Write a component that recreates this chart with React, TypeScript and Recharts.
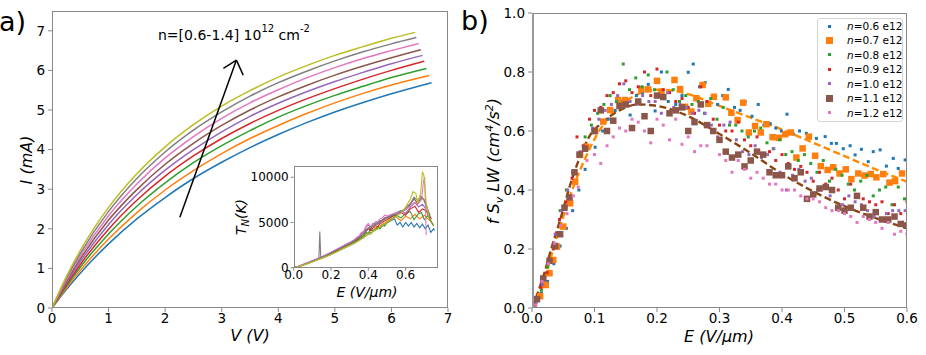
import React from 'react';
import { LineChart, Line, XAxis, YAxis, ComposedChart, Scatter, ReferenceLine } from 'recharts';

const FONT = 'DejaVu Sans';
const C = ['#1f77b4', '#ff7f0e', '#2ca02c', '#d62728', '#9467bd', '#8c564b', '#e377c2', '#7f7f7f', '#bcbd22'];

// ---------- Panel a: I-V curves ----------
const V_GRID = [0, 0.25, 0.5, 1, 1.5, 2, 2.5, 3, 3.5, 4, 4.5, 5, 5.5, 6];
const END_V = [6.71, 6.67, 6.62, 6.58, 6.55, 6.52, 6.48, 6.44, 6.42];
const I_N06 = [0, 0.46, 0.88, 1.62, 2.25, 2.79, 3.27, 3.68, 4.05, 4.38, 4.68, 4.95, 5.19, 5.41, 5.69];
const I_N07 = [0, 0.5, 0.95, 1.74, 2.41, 2.98, 3.47, 3.9, 4.28, 4.61, 4.91, 5.18, 5.42, 5.63, 5.87];
const I_N08 = [0, 0.54, 1.03, 1.87, 2.57, 3.16, 3.67, 4.1, 4.48, 4.82, 5.11, 5.37, 5.6, 5.82, 6.05];
const I_N09 = [0, 0.58, 1.1, 1.99, 2.72, 3.33, 3.84, 4.28, 4.66, 4.99, 5.28, 5.54, 5.78, 6.0, 6.23];
const I_N10 = [0, 0.62, 1.17, 2.11, 2.86, 3.48, 4.0, 4.45, 4.84, 5.17, 5.46, 5.72, 5.95, 6.17, 6.38];
const I_N11 = [0, 0.66, 1.24, 2.22, 2.99, 3.63, 4.16, 4.61, 5.0, 5.33, 5.62, 5.88, 6.11, 6.32, 6.52];
const I_N12 = [0, 0.7, 1.31, 2.33, 3.13, 3.79, 4.33, 4.79, 5.18, 5.51, 5.81, 6.07, 6.3, 6.5, 6.68];
const I_N13 = [0, 0.74, 1.38, 2.44, 3.27, 3.94, 4.49, 4.95, 5.35, 5.69, 5.98, 6.24, 6.47, 6.67, 6.83];
const I_N14 = [0, 0.78, 1.45, 2.54, 3.39, 4.07, 4.63, 5.1, 5.49, 5.83, 6.12, 6.38, 6.6, 6.81, 6.96];
const IV_ALL = [I_N06, I_N07, I_N08, I_N09, I_N10, I_N11, I_N12, I_N13, I_N14];
const V_TICKS = [0, 1, 2, 3, 4, 5, 6, 7];
const I_TICKS = [0, 1, 2, 3, 4, 5, 6, 7];
const ARROW = [{ x: 2.26, y: 2.29 }, { x: 3.26, y: 6.26 }];
const ARROW_L = [{ x: 3.26, y: 6.26 }, { x: 3.03, y: 6.05 }];
const ARROW_R = [{ x: 3.26, y: 6.26 }, { x: 3.38, y: 5.88 }];

// ---------- Inset: noise temperature ----------
const T_N06 = [[0,0],[0.025,100],[0.05,280],[0.075,470],[0.1,650],[0.125,850],[0.15,1050],[0.175,1250],[0.2,1450],[0.225,1700],[0.25,1950],[0.275,2200],[0.3,2450],[0.325,2700],[0.35,3000],[0.375,3350],[0.4,3700],[0.425,4000],[0.45,4300],[0.475,4600],[0.5,4950],[0.525,5250],[0.54,5400],[0.555,4700],[0.57,5000],[0.585,4500],[0.6,5000],[0.615,4600],[0.63,5000],[0.645,4500],[0.66,4900],[0.675,4400],[0.69,4800],[0.705,4300],[0.72,4700],[0.735,3900],[0.75,4300],[0.755,4100]];
const T_N07 = [[0,0],[0.025,120],[0.05,300],[0.075,500],[0.1,700],[0.125,900],[0.15,1100],[0.175,1300],[0.2,1550],[0.225,1800],[0.25,2050],[0.275,2300],[0.3,2550],[0.325,2800],[0.35,3100],[0.3625,3400],[0.375,3300],[0.3875,3800],[0.4,3700],[0.4125,4200],[0.425,4000],[0.4375,4500],[0.45,4400],[0.475,4800],[0.5,5100],[0.525,5400],[0.55,5600],[0.575,5200],[0.6,5700],[0.625,5400],[0.65,5900],[0.675,5400],[0.7,5800],[0.725,5300],[0.74,5000],[0.75,4600]];
const T_N08 = [[0,0],[0.025,110],[0.05,290],[0.075,490],[0.1,690],[0.125,880],[0.15,1080],[0.175,1300],[0.2,1560],[0.225,1820],[0.25,2080],[0.275,2330],[0.3,2600],[0.325,2850],[0.35,3150],[0.375,3500],[0.3875,3900],[0.4,3800],[0.4125,4300],[0.425,4100],[0.45,4450],[0.4625,4300],[0.475,4700],[0.4875,4600],[0.5,5000],[0.525,5350],[0.55,5800],[0.575,5500],[0.6,6000],[0.625,6200],[0.645,5300],[0.665,5900],[0.685,6100],[0.7,5300],[0.72,5800],[0.74,5000],[0.748,4700]];
const T_N09 = [[0,0],[0.025,130],[0.05,320],[0.075,520],[0.1,720],[0.125,930],[0.15,1150],[0.175,1380],[0.2,1620],[0.225,1880],[0.25,2150],[0.275,2400],[0.3,2650],[0.3125,2800],[0.325,2950],[0.3375,3050],[0.35,3300],[0.3625,3600],[0.375,3750],[0.3875,4100],[0.4,4300],[0.4125,4100],[0.425,4400],[0.4375,4700],[0.45,4500],[0.4625,4900],[0.475,5000],[0.4875,5200],[0.5,5300],[0.525,5600],[0.55,5900],[0.575,6100],[0.6,5800],[0.625,6500],[0.65,6800],[0.67,6100],[0.69,6500],[0.71,6300],[0.725,5700],[0.74,5400]];
const T_N10 = [[0,0],[0.025,140],[0.05,340],[0.075,540],[0.1,750],[0.125,960],[0.15,1180],[0.175,1420],[0.2,1680],[0.225,1950],[0.25,2220],[0.275,2500],[0.3,2750],[0.3125,2900],[0.325,3050],[0.3375,3300],[0.35,3450],[0.3625,3800],[0.375,3950],[0.3875,4500],[0.4,4700],[0.4125,4500],[0.425,4900],[0.4375,4700],[0.45,5100],[0.4625,4900],[0.475,5300],[0.4875,5500],[0.5,5600],[0.525,5800],[0.55,6100],[0.575,6300],[0.6,6000],[0.625,6700],[0.65,7200],[0.67,6700],[0.69,7000],[0.705,6600],[0.72,6000],[0.735,5600]];
const T_N11 = [[0,0],[0.025,130],[0.05,330],[0.075,530],[0.1,740],[0.125,950],[0.15,1170],[0.175,1400],[0.2,1650],[0.225,1920],[0.25,2200],[0.275,2450],[0.3,2700],[0.325,3000],[0.35,3350],[0.3625,3500],[0.375,3800],[0.3875,4200],[0.4,4400],[0.4125,4300],[0.425,4700],[0.4375,4900],[0.45,4800],[0.4625,5200],[0.475,5200],[0.4875,5500],[0.5,5500],[0.525,5700],[0.55,5900],[0.575,6200],[0.6,6400],[0.625,7000],[0.645,7600],[0.665,7100],[0.685,7800],[0.7,7400],[0.715,6600],[0.73,5800]];
const T_N12 = [[0,0],[0.025,150],[0.05,350],[0.075,560],[0.1,770],[0.125,980],[0.15,1200],[0.175,1450],[0.2,1700],[0.225,1980],[0.25,2250],[0.275,2550],[0.3,2800],[0.3125,2950],[0.325,3100],[0.3375,3350],[0.35,3500],[0.3625,3900],[0.375,4000],[0.3875,4600],[0.4,4900],[0.4125,4500],[0.425,4700],[0.4375,5100],[0.45,5100],[0.4625,5400],[0.475,5500],[0.4875,5800],[0.5,5700],[0.525,5900],[0.55,6100],[0.575,6000],[0.6,6500],[0.625,6800],[0.645,7200],[0.665,7000],[0.685,7500],[0.695,9500],[0.702,10000],[0.71,3600]];
const T_N13 = [[0,0],[0.025,120],[0.05,310],[0.075,510],[0.1,720],[0.125,930],[0.135,1020],[0.14,4000],[0.145,1100],[0.15,1150],[0.175,1380],[0.2,1630],[0.225,1890],[0.25,2150],[0.275,2400],[0.3,2680],[0.325,2980],[0.35,3350],[0.3625,3500],[0.375,3800],[0.3875,4000],[0.4,4300],[0.4125,4600],[0.425,4500],[0.4375,4900],[0.45,4900],[0.4625,5100],[0.475,5200],[0.5,5500],[0.525,5800],[0.55,5900],[0.575,6200],[0.6,6600],[0.625,7100],[0.645,7800],[0.665,7400],[0.68,7900],[0.7,7500],[0.715,6600],[0.73,5600]];
const T_N14 = [[0,0],[0.025,90],[0.05,260],[0.075,450],[0.1,640],[0.125,840],[0.15,1030],[0.175,1230],[0.2,1450],[0.225,1690],[0.25,1950],[0.275,2200],[0.3,2450],[0.325,2700],[0.35,3000],[0.375,3350],[0.3875,3500],[0.4,3800],[0.4125,3700],[0.425,4000],[0.4375,4200],[0.45,4300],[0.4625,4500],[0.475,4650],[0.5,5000],[0.525,5300],[0.55,5700],[0.575,6000],[0.6,6700],[0.625,7600],[0.64,8400],[0.655,8200],[0.665,7100],[0.68,8200],[0.69,10600],[0.698,10200],[0.71,7200],[0.725,5500]];
const T_ALL = [T_N06, T_N07, T_N08, T_N09, T_N10, T_N11, T_N12, T_N13, T_N14];
const INSET_X_TICKS = [0, 0.2, 0.4, 0.6];
const INSET_Y_TICKS = [0, 5000, 10000];

// ---------- Panel b: f S_v LW ----------
const S_N06 = [[0.005,0.01],[0.015,0.05],[0.025,0.09],[0.035,0.15],[0.045,0.21],[0.055,0.27],[0.065,0.33],[0.075,0.4],[0.085,0.47],[0.101,0.545],[0.113,0.6],[0.122,0.64],[0.133,0.67],[0.143,0.7],[0.157,0.654],[0.167,0.72],[0.177,0.73],[0.186,0.758],[0.197,0.668],[0.207,0.8],[0.218,0.7],[0.23,0.69],[0.24,0.72],[0.25,0.799],[0.258,0.827],[0.268,0.75],[0.277,0.764],[0.287,0.71],[0.297,0.69],[0.305,0.72],[0.314,0.741],[0.324,0.68],[0.333,0.67],[0.341,0.699],[0.352,0.65],[0.362,0.69],[0.371,0.62],[0.381,0.625],[0.39,0.61],[0.399,0.6],[0.408,0.657],[0.418,0.59],[0.428,0.6],[0.439,0.592],[0.455,0.575],[0.469,0.581],[0.479,0.558],[0.487,0.558],[0.498,0.54],[0.509,0.55],[0.517,0.519],[0.527,0.538],[0.538,0.496],[0.546,0.53],[0.557,0.536],[0.567,0.481],[0.578,0.507],[0.586,0.473],[0.597,0.502]];
const S_N07 = [[0.003,0.002],[0.013,0.04],[0.022,0.078],[0.028,0.118],[0.034,0.163],[0.04,0.208],[0.05,0.276],[0.061,0.355],[0.069,0.428],[0.077,0.519],[0.087,0.547],[0.101,0.6],[0.114,0.632],[0.125,0.671],[0.138,0.705],[0.149,0.705],[0.175,0.741],[0.186,0.741],[0.2,0.77],[0.207,0.733],[0.228,0.773],[0.237,0.742],[0.245,0.682],[0.255,0.666],[0.263,0.711],[0.273,0.756],[0.282,0.692],[0.291,0.716],[0.31,0.714],[0.319,0.662],[0.329,0.637],[0.338,0.696],[0.347,0.595],[0.357,0.617],[0.366,0.595],[0.375,0.623],[0.385,0.579],[0.395,0.577],[0.405,0.589],[0.414,0.595],[0.423,0.51],[0.433,0.541],[0.443,0.581],[0.453,0.516],[0.462,0.481],[0.473,0.468],[0.482,0.477],[0.492,0.456],[0.502,0.47],[0.511,0.437],[0.522,0.456],[0.532,0.449],[0.542,0.454],[0.551,0.443],[0.562,0.454],[0.572,0.425],[0.581,0.43],[0.592,0.456]];
const S_N08 = [[0.005,0.01],[0.015,0.06],[0.025,0.14],[0.035,0.21],[0.045,0.33],[0.055,0.4],[0.065,0.46],[0.075,0.52],[0.085,0.58],[0.095,0.62],[0.105,0.66],[0.115,0.69],[0.125,0.72],[0.135,0.7],[0.146,0.827],[0.156,0.74],[0.166,0.78],[0.176,0.75],[0.186,0.79],[0.196,0.74],[0.206,0.72],[0.216,0.8],[0.226,0.74],[0.236,0.7],[0.246,0.72],[0.256,0.69],[0.266,0.7],[0.276,0.66],[0.286,0.71],[0.296,0.64],[0.306,0.68],[0.316,0.62],[0.326,0.62],[0.336,0.6],[0.346,0.58],[0.356,0.6],[0.366,0.61],[0.376,0.56],[0.386,0.54],[0.396,0.57],[0.406,0.52],[0.416,0.53],[0.426,0.5],[0.436,0.52],[0.446,0.49],[0.456,0.46],[0.466,0.5],[0.476,0.43],[0.486,0.47],[0.496,0.45],[0.506,0.42],[0.516,0.4],[0.526,0.43],[0.536,0.45],[0.546,0.38],[0.556,0.4],[0.566,0.41],[0.576,0.35],[0.586,0.41],[0.596,0.37]];
const S_N09 = [[0.005,0.01],[0.014,0.07],[0.024,0.12],[0.034,0.2],[0.044,0.3],[0.054,0.36],[0.064,0.44],[0.072,0.58],[0.082,0.55],[0.092,0.64],[0.1,0.67],[0.11,0.68],[0.12,0.72],[0.13,0.73],[0.14,0.76],[0.15,0.77],[0.16,0.73],[0.17,0.75],[0.18,0.8],[0.19,0.72],[0.2,0.81],[0.21,0.74],[0.22,0.73],[0.23,0.7],[0.24,0.71],[0.25,0.68],[0.26,0.66],[0.27,0.75],[0.28,0.7],[0.29,0.64],[0.3,0.62],[0.31,0.6],[0.32,0.6],[0.33,0.63],[0.34,0.57],[0.35,0.55],[0.36,0.58],[0.37,0.52],[0.38,0.53],[0.39,0.5],[0.4,0.52],[0.41,0.49],[0.42,0.47],[0.43,0.48],[0.44,0.46],[0.45,0.43],[0.46,0.46],[0.47,0.42],[0.48,0.44],[0.49,0.4],[0.5,0.37],[0.51,0.42],[0.52,0.38],[0.53,0.37],[0.54,0.36],[0.55,0.35],[0.56,0.36],[0.57,0.32],[0.58,0.35],[0.59,0.32],[0.6,0.36]];
const S_N10 = [[0.007,0.02],[0.017,0.08],[0.027,0.16],[0.037,0.25],[0.047,0.33],[0.057,0.4],[0.067,0.46],[0.077,0.53],[0.087,0.54],[0.097,0.61],[0.107,0.64],[0.117,0.67],[0.127,0.69],[0.137,0.72],[0.147,0.76],[0.157,0.7],[0.167,0.69],[0.177,0.72],[0.187,0.7],[0.197,0.7],[0.207,0.66],[0.217,0.73],[0.227,0.68],[0.237,0.69],[0.247,0.68],[0.257,0.66],[0.267,0.67],[0.277,0.66],[0.287,0.62],[0.297,0.58],[0.307,0.62],[0.317,0.63],[0.327,0.57],[0.337,0.53],[0.347,0.52],[0.357,0.55],[0.367,0.51],[0.377,0.52],[0.387,0.54],[0.397,0.46],[0.407,0.4],[0.417,0.45],[0.427,0.47],[0.437,0.43],[0.447,0.44],[0.457,0.4],[0.467,0.41],[0.477,0.38],[0.487,0.34],[0.497,0.35],[0.507,0.38],[0.517,0.36],[0.527,0.35],[0.537,0.33],[0.547,0.31],[0.557,0.3],[0.567,0.32],[0.577,0.33],[0.587,0.33],[0.597,0.33]];
const S_N11 = [[0.008,0.03],[0.018,0.1],[0.028,0.16],[0.037,0.21],[0.045,0.25],[0.052,0.34],[0.06,0.375],[0.068,0.46],[0.076,0.52],[0.085,0.54],[0.1,0.6],[0.11,0.67],[0.12,0.6],[0.13,0.635],[0.14,0.685],[0.15,0.69],[0.16,0.61],[0.17,0.7],[0.18,0.65],[0.19,0.6],[0.2,0.72],[0.21,0.715],[0.22,0.66],[0.23,0.67],[0.24,0.68],[0.25,0.6],[0.26,0.63],[0.27,0.69],[0.28,0.62],[0.29,0.6],[0.3,0.57],[0.31,0.53],[0.32,0.51],[0.33,0.52],[0.34,0.48],[0.35,0.5],[0.36,0.53],[0.37,0.52],[0.38,0.46],[0.39,0.45],[0.4,0.45],[0.41,0.48],[0.42,0.44],[0.43,0.46],[0.44,0.37],[0.45,0.385],[0.46,0.405],[0.47,0.41],[0.48,0.4],[0.49,0.34],[0.5,0.33],[0.51,0.34],[0.52,0.38],[0.53,0.34],[0.54,0.31],[0.55,0.325],[0.56,0.3],[0.57,0.3],[0.58,0.31],[0.59,0.285],[0.6,0.28]];
const S_N12 = [[0.006,0.01],[0.016,0.09],[0.026,0.15],[0.036,0.22],[0.046,0.28],[0.056,0.32],[0.066,0.38],[0.074,0.41],[0.088,0.5],[0.1,0.52],[0.11,0.49],[0.12,0.55],[0.13,0.58],[0.14,0.61],[0.15,0.6],[0.16,0.64],[0.17,0.63],[0.18,0.6],[0.19,0.56],[0.2,0.64],[0.21,0.62],[0.22,0.57],[0.23,0.64],[0.24,0.555],[0.25,0.58],[0.26,0.53],[0.27,0.55],[0.28,0.55],[0.3,0.52],[0.31,0.5],[0.32,0.46],[0.33,0.5],[0.34,0.47],[0.35,0.44],[0.36,0.46],[0.37,0.44],[0.38,0.42],[0.39,0.42],[0.4,0.4],[0.41,0.4],[0.42,0.4],[0.43,0.38],[0.44,0.37],[0.45,0.37],[0.46,0.36],[0.47,0.34],[0.48,0.33],[0.49,0.33],[0.5,0.32],[0.51,0.31],[0.52,0.29],[0.53,0.31],[0.54,0.3],[0.55,0.29],[0.56,0.27],[0.57,0.29],[0.58,0.25],[0.59,0.26],[0.6,0.25]];
const S_ALL = [S_N06, S_N07, S_N08, S_N09, S_N10, S_N11, S_N12];
const S_LABELS = ['0.6', '0.7', '0.8', '0.9', '1.0', '1.1', '1.2'];
const S_BIG = [false, true, false, false, false, true, false];
const FIT_N07 = [[0,0],[0.0128,0.05],[0.029,0.163],[0.05,0.31],[0.066,0.41],[0.085,0.507],[0.1035,0.586],[0.125,0.65],[0.15,0.70],[0.175,0.73],[0.2,0.74],[0.225,0.737],[0.25,0.725],[0.3,0.685],[0.35,0.645],[0.4,0.605],[0.45,0.56],[0.5,0.515],[0.55,0.47],[0.6,0.428]];
const FIT_N11 = [[0,0],[0.02,0.12],[0.03,0.195],[0.045,0.298],[0.061,0.417],[0.077,0.513],[0.093,0.586],[0.111,0.626],[0.14,0.67],[0.17,0.69],[0.2,0.685],[0.25,0.65],[0.3,0.59],[0.35,0.525],[0.4,0.455],[0.45,0.395],[0.5,0.345],[0.55,0.305],[0.6,0.27]];
const E_TICKS = [0, 0.1, 0.2, 0.3, 0.4, 0.5, 0.6];
const F_TICKS = [0, 0.2, 0.4, 0.6, 0.8, 1.0];

const toPts = (arr: number[][], kx: string, ky: string) => arr.map(p => ({ [kx]: p[0], [ky]: p[1] }));

const tickStyle = (size: number) => ({ fill: '#000', fontSize: size, fontFamily: FONT });
const AX = '#888';

const square = (size: number, color: string) => (props: any) => {
  const { cx, cy } = props;
  if (cx == null || cy == null) return <g />;
  return <rect x={cx - size / 2} y={cy - size / 2} width={size} height={size} fill={color} />;
};

export default function App() {
  return (
    <div style={{ position: 'absolute', left: 0, top: 0, width: 926, height: 355, background: '#fff', overflow: 'hidden', fontFamily: FONT }}>
      {/* Panel a */}
      <div style={{ position: 'absolute', left: 0, top: 0 }}>
        <LineChart width={460} height={355} margin={{ top: 11, right: 12, bottom: 17, left: 12 }}>
          <XAxis type="number" dataKey="v" domain={[0, 7]} ticks={V_TICKS} allowDataOverflow height={30}
            axisLine={false} tickLine={{ stroke: AX }} tickSize={4} tickMargin={1} tick={tickStyle(13.5)} />
          <YAxis type="number" dataKey="i" domain={[0, 7.5]} ticks={I_TICKS} allowDataOverflow width={40}
            axisLine={false} tickLine={{ stroke: AX }} tickSize={4} tickMargin={3} tick={tickStyle(13.5)} />
          {IV_ALL.map((arr, k) => (
            <Line key={k} data={V_GRID.concat([END_V[k]]).map((v, j) => ({ v, i: arr[j] }))} dataKey="i"
              type="monotone" stroke={C[k]} strokeWidth={1.5} dot={false} isAnimationActive={false} />
          ))}
          <ReferenceLine segment={ARROW} stroke="#000" strokeWidth={1.5} ifOverflow="visible" />
          <ReferenceLine segment={ARROW_L} stroke="#000" strokeWidth={1.5} ifOverflow="visible" />
          <ReferenceLine segment={ARROW_R} stroke="#000" strokeWidth={1.5} ifOverflow="visible" />
        </LineChart>
      </div>
      <div style={{ position: 'absolute', left: 52, top: 11, width: 396, height: 297, border: `1px solid ${AX}`, boxSizing: 'border-box', pointerEvents: 'none' }} />

      {/* Inset */}
      <div style={{ position: 'absolute', left: 230, top: 150 }}>
        <LineChart width={220} height={150} margin={{ top: 16, right: 11.7, bottom: 12.3, left: 13.7 }}>
          <XAxis type="number" dataKey="e" domain={[0, 0.775]} ticks={INSET_X_TICKS} allowDataOverflow height={20}
            axisLine={false} tickLine={{ stroke: AX }} tickSize={3} tickMargin={0} tick={tickStyle(12)}
            tickFormatter={(v: number) => v.toFixed(1)} />
          <YAxis type="number" dataKey="t" domain={[0, 11240]} ticks={INSET_Y_TICKS} allowDataOverflow width={50}
            axisLine={false} tickLine={{ stroke: AX }} tickSize={3} tickMargin={2} tick={tickStyle(12)} />
          {T_ALL.map((arr, k) => (
            <Line key={k} data={toPts(arr, 'e', 't')} dataKey="t" type="linear" stroke={C[k]} strokeWidth={1.1}
              dot={false} isAnimationActive={false} />
          ))}
        </LineChart>
      </div>
      <div style={{ position: 'absolute', left: 293.7, top: 166, width: 144.6, height: 101.7, border: `1px solid ${AX}`, boxSizing: 'border-box', pointerEvents: 'none' }} />

      {/* Panel b */}
      <div style={{ position: 'absolute', left: 460, top: 0 }}>
        <ComposedChart width={466} height={355} margin={{ top: 13, right: 19, bottom: 17, left: 32 }}>
          <XAxis type="number" dataKey="e" domain={[0, 0.6]} ticks={E_TICKS} allowDataOverflow height={30}
            axisLine={false} tickLine={{ stroke: AX }} tickSize={4} tickMargin={1} tick={tickStyle(13.5)}
            tickFormatter={(v: number) => v.toFixed(1)} />
          <YAxis type="number" dataKey="v" domain={[0, 1]} ticks={F_TICKS} allowDataOverflow width={40}
            axisLine={false} tickLine={{ stroke: AX }} tickSize={4} tickMargin={3} tick={tickStyle(13.5)}
            tickFormatter={(v: number) => v.toFixed(1)} />
          {S_ALL.map((arr, k) => (
            <Scatter key={k} data={toPts(arr, 'e', 'v')} dataKey="v" isAnimationActive={false}
              shape={square(S_BIG[k] ? 6.5 : 3, C[k])} />
          ))}
          <Line data={toPts(FIT_N07, 'e', 'v')} dataKey="v" type="monotone" stroke="#ff8c00" strokeWidth={2.4}
            strokeDasharray="7 3.5" dot={false} isAnimationActive={false} />
          <Line data={toPts(FIT_N11, 'e', 'v')} dataKey="v" type="monotone" stroke="#8b4513" strokeWidth={2.4}
            strokeDasharray="7 3.5" dot={false} isAnimationActive={false} />
        </ComposedChart>
      </div>
      <div style={{ position: 'absolute', left: 532, top: 13, width: 375, height: 295, borderTop: `1px solid ${AX}`, borderRight: `1px solid ${AX}`, borderBottom: `1px solid ${AX}`, borderLeft: `2px solid #999`, boxSizing: 'border-box', pointerEvents: 'none' }} />

      {/* Legend for panel b */}
      <div style={{ position: 'absolute', left: 817, top: 18, width: 86, height: 104, border: '1px solid #d4d4d4', borderRadius: 3, background: 'rgba(255,255,255,0.85)', boxSizing: 'border-box' }}>
        {S_LABELS.map((lab, k) => {
          const s = S_BIG[k] ? 7 : 3;
          const cy = 8 + 14.45 * k - 1;
          return (
            <div key={k}>
              <div style={{ position: 'absolute', left: 12 - s / 2 - 1, top: cy - s / 2, width: s, height: s, background: C[k] }} />
              <div style={{ position: 'absolute', left: 29, top: cy - 7, height: 14, lineHeight: '14px', fontSize: 10.5, fontFamily: FONT, color: '#000', whiteSpace: 'nowrap' }}>
                <i>n</i>={lab} e12
              </div>
            </div>
          );
        })}
      </div>

      {/* Text overlay */}
      <svg width={926} height={355} style={{ position: 'absolute', left: 0, top: 0, pointerEvents: 'none' }} fontFamily={FONT}>
        <text x={-1} y={31} fontSize={27} fill="#000">a)</text>
        <text x={461} y={30} fontSize={27} fill="#000">b)</text>
        <text x={250} y={341} fontSize={16} fontStyle="italic" textAnchor="middle" fill="#000">V (V)</text>
        <text transform="translate(32,160) rotate(-90)" fontSize={16} fontStyle="italic" textAnchor="middle" fill="#000">I (mA)</text>
        <text x={719} y={342} fontSize={16} fontStyle="italic" textAnchor="middle" fill="#000">E (V/μm)</text>
        <text transform="translate(499,161) rotate(-90)" fontSize={16} fontStyle="italic" textAnchor="middle" fill="#000">
          f S<tspan dy={4} fontSize={11}>v</tspan><tspan dy={-4}> LW (cm</tspan><tspan dy={-6} fontSize={11}>4</tspan><tspan dy={6}>/s</tspan><tspan dy={-6} fontSize={11}>2</tspan><tspan dy={6}>)</tspan>
        </text>
        <text x={367} y={297} fontSize={14} fontStyle="italic" textAnchor="middle" fill="#000">E (V/μm)</text>
        <text transform="translate(246,217) rotate(-90)" fontSize={14} fontStyle="italic" textAnchor="middle" fill="#000">
          T<tspan dy={3} fontSize={10}>N</tspan><tspan dy={-3}>(K)</tspan>
        </text>
        <text x={158} y={40} fontSize={14} fill="#000">
          n=[0.6-1.4] 10<tspan dy={-8} fontSize={10}>12</tspan><tspan dy={8}> cm</tspan><tspan dy={-8} fontSize={10}>-2</tspan>
        </text>
      </svg>
    </div>
  );
}
